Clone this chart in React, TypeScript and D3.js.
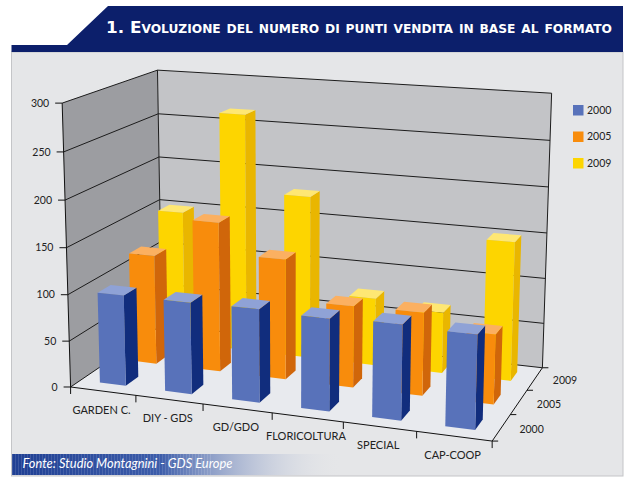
import React from "react";
import * as d3 from "d3";

const categories = ["GARDEN C.", "DIY - GDS", "GD/GDO", "FLORICOLTURA", "SPECIAL", "CAP-COOP"];
const years = ["2000", "2005", "2009"];
const values2000 = [98, 98, 99, 97, 99, 97];
const values2005 = [121, 164, 131, 88, 89, 74];
const values2009 = [151, 266, 181, 75, 67, 151];
const valueTicks = [0, 50, 100, 150, 200, 250, 300];
const seriesValues = [values2000, values2005, values2009];

const faceColors = [
  { front: "#5872ba", top: "#8fa2d6", side: "#112d7d" },
  { front: "#f88c0c", top: "#fbb061", side: "#d0660a" },
  { front: "#fdd500", top: "#fee773", side: "#e9b600" },
];

// frame reference points: [x (category units), y (value/100), z (rows, front=0), px, py]
const refPoints: number[][] = [
  [0, 0, 0, 71.7, 385],
  [0, 0.5, 0, 70, 341.7],
  [0, 1, 0, 68.3, 295],
  [0, 1.5, 0, 66.7, 248.3],
  [0, 2, 0, 65, 200],
  [0, 2.5, 0, 63.3, 151.7],
  [0, 3, 0, 62, 103.3],
  [0, 3, 3, 156.7, 70.7],
  [0, 2.5, 3, 158.3, 113.3],
  [0, 2, 3, 159.3, 157.3],
  [0, 1.5, 3, 160.7, 199],
  [6, 3, 3, 551.7, 93.3],
  [6, 2.5, 3, 550, 140],
  [6, 2, 3, 548.5, 186.7],
  [6, 1.5, 3, 547, 233.3],
  [6, 1, 3, 545.3, 278],
  [6, 0.5, 3, 543.7, 323],
  [6, 0, 3, 541, 367],
  [6, 0, 0, 492, 442],
  [0.3, 0, 0.3, 98, 382.7],
  [0.7, 0, 0.3, 126, 383.5],
  [0.3, 0, 1.3, 130, 361.7],
  [1.3, 0, 0.3, 165, 390],
  [1.3, 0, 1.3, 193, 370],
  [2.3, 0, 0.3, 232, 399.3],
  [2.3, 0, 1.3, 260, 378.3],
  [3.3, 0, 0.3, 300.7, 406.7],
  [3.3, 0, 1.3, 326, 385],
  [3.3, 0, 2.3, 350, 361.7],
  [4.3, 0, 0.3, 372, 416.7],
  [4.3, 0, 1.3, 397, 393],
  [5.3, 0, 0.3, 445, 426.7],
];

// least squares fit of a 3x4 projection (DLT with p12 = 1)
function fitCamera(refs: number[][]) {
  const n = 11;
  const M = Array.from({ length: n }, () => new Array(n).fill(0));
  const r = new Array(n).fill(0);
  const add = (row: number[], rhs: number) => {
    for (let i = 0; i < n; i++) {
      r[i] += row[i] * rhs;
      for (let j = 0; j < n; j++) M[i][j] += row[i] * row[j];
    }
  };
  refs.forEach(([X, Y, Z, px, py]) => {
    const u = (px - 300) / 300;
    const v = (py - 250) / 300;
    add([X, Y, Z, 1, 0, 0, 0, 0, -u * X, -u * Y, -u * Z], u);
    add([0, 0, 0, 0, X, Y, Z, 1, -v * X, -v * Y, -v * Z], v);
  });
  for (let c = 0; c < n; c++) {
    let p = c;
    for (let i = c + 1; i < n; i++) if (Math.abs(M[i][c]) > Math.abs(M[p][c])) p = i;
    [M[c], M[p]] = [M[p], M[c]];
    [r[c], r[p]] = [r[p], r[c]];
    for (let i = 0; i < n; i++) {
      if (i === c) continue;
      const f = M[i][c] / M[c][c];
      for (let j = c; j < n; j++) M[i][j] -= f * M[c][j];
      r[i] -= f * r[c];
    }
  }
  const p = r.map((v, i) => v / M[i][i]);
  return (X: number, Y: number, Z: number): [number, number] => {
    const w = p[8] * X + p[9] * Y + p[10] * Z + 1;
    return [
      ((p[0] * X + p[1] * Y + p[2] * Z + p[3]) / w) * 300 + 300,
      ((p[4] * X + p[5] * Y + p[6] * Z + p[7]) / w) * 300 + 250,
    ];
  };
}

const font = "Lato, 'Open Sans', sans-serif";

const App: React.FC = () => {
  const proj = React.useMemo(() => fitCamera(refPoints), []);
  const xBand = d3.scaleBand<string>().domain(categories).range([0, 6]).paddingInner(0.6).paddingOuter(0.3);
  const zBand = d3.scaleBand<string>().domain(years).range([0, 3]).paddingInner(0.6).paddingOuter(0.3);
  const yScale = d3.scaleLinear().domain([0, 300]).range([0, 3]);
  const xMax = 6;
  const zMax = 3;
  const vMax = 300;
  const P = (x: number, v: number, z: number) => proj(x, yScale(v), z);
  const poly = (pts: [number, number][]) => d3.line()(pts) + "Z";
  const seg = (a: [number, number], b: [number, number], key: string, stroke = "#1c1c1c") => (
    <line key={key} x1={a[0]} y1={a[1]} x2={b[0]} y2={b[1]} stroke={stroke} strokeWidth={1} />
  );

  const bars: JSX.Element[] = [];
  for (let j = years.length - 1; j >= 0; j--) {
    const z0 = zBand(years[j])!;
    const z1 = z0 + zBand.bandwidth();
    const c = faceColors[j];
    categories.forEach((cat, i) => {
      const x0 = xBand(cat)!;
      const x1 = x0 + xBand.bandwidth();
      const v = seriesValues[j][i];
      bars.push(
        <g key={`bar-${j}-${i}`}>
          <path d={poly([P(x1, 0, z0), P(x1, 0, z1), P(x1, v, z1), P(x1, v, z0)])} fill={c.side} />
          <path d={poly([P(x0, v, z0), P(x1, v, z0), P(x1, v, z1), P(x0, v, z1)])} fill={c.top} />
          <path d={poly([P(x0, 0, z0), P(x1, 0, z0), P(x1, v, z0), P(x0, v, z0)])} fill={c.front} />
        </g>
      );
    });
  }

  return (
    <svg width={632} height={480} style={{ position: "absolute", left: 0, top: 0 }}>
      <defs>
        <linearGradient id="footer" x1="0" x2="1" y1="0" y2="0">
          <stop offset="0" stopColor="#1f3f93" />
          <stop offset="0.45" stopColor="#3d5daa" />
          <stop offset="1" stopColor="#e5e6e8" stopOpacity="0" />
        </linearGradient>
        <pattern id="stripes" width="3" height="10" patternUnits="userSpaceOnUse">
          <rect width="1" height="10" fill="#ffffff" opacity="0.12" />
        </pattern>
      </defs>
      <rect width={632} height={480} fill="#ffffff" />
      <rect x={11.5} y={52} width={611.5} height={424} fill="#e5e6e8" stroke="#c4c5c8" />
      <path d="M108,6L623,6L623,52L11.5,52L11.5,45L67,45Z" fill="#0c1f6b" />
      <text
        x={106}
        y={32.5}
        fill="#ffffff"
        fontFamily="'DejaVu Sans', sans-serif"
        fontWeight={700}
        fontSize={16.5}
        textLength={506}
        lengthAdjust="spacingAndGlyphs"
        style={{ fontVariant: "small-caps" }}
      >
        1. Evoluzione del numero di punti vendita in base al formato
      </text>

      {/* walls and floor */}
      <path d={poly([P(0, 0, 0), P(xMax, 0, 0), P(xMax, 0, zMax), P(0, 0, zMax)])} fill="#e8eaee" />
      <path d={poly([P(0, 0, 0), P(0, 0, zMax), P(0, vMax, zMax), P(0, vMax, 0)])} fill="#9c9da1" />
      <path d={poly([P(0, 0, zMax), P(xMax, 0, zMax), P(xMax, vMax, zMax), P(0, vMax, zMax)])} fill="#c3c4c7" />
      {valueTicks.map(t => seg(P(0, t, 0), P(0, t, zMax), `lg-${t}`))}
      {valueTicks.map(t => seg(P(0, t, zMax), P(xMax, t, zMax), `bg-${t}`))}
      {seg(P(0, 0, zMax), P(0, vMax, zMax), "e1")}
      {seg(P(xMax, 0, zMax), P(xMax, vMax, zMax), "e2")}
      {seg(P(0, 0, 0), P(0, vMax, 0), "yaxis", "#111")}
      {seg(P(0, 0, 0), P(xMax, 0, 0), "xaxis", "#111")}
      {seg(P(xMax, 0, 0), P(xMax, 0, zMax), "zaxis", "#111")}

      {/* value axis ticks and labels */}
      {valueTicks.map(t => {
        const [ax, ay] = P(0, t, 0);
        return (
          <g key={`yt-${t}`}>
            <line x1={ax - 7} y1={ay} x2={ax} y2={ay} stroke="#111" />
            <text x={ax - 13} y={ay} dy="0.35em" textAnchor="end" fontFamily={font} fontSize={10.5} fill="#222">
              {t}
            </text>
          </g>
        );
      })}

      {/* category ticks and labels */}
      {d3.range(categories.length + 1).map(k => {
        const [ax, ay] = P(k, 0, 0);
        return <line key={`xt-${k}`} x1={ax} y1={ay} x2={ax} y2={ay + 7} stroke="#111" />;
      })}
      {categories.map(cat => {
        const [ax, ay] = P(xBand(cat)! + xBand.bandwidth() / 2, 0, 0);
        return (
          <text key={cat} x={ax - 1.5} y={ay + 19} dy="0.35em" textAnchor="middle" fontFamily={font} fontSize={11} fill="#222">
            {cat}
          </text>
        );
      })}

      {/* depth ticks and labels */}
      {d3.range(years.length + 1).map(k => {
        const [ax, ay] = P(xMax, 0, k);
        return <line key={`zt-${k}`} x1={ax} y1={ay} x2={ax + 6} y2={ay} stroke="#111" />;
      })}
      {years.map(y => {
        const [ax, ay] = P(xMax, 0, zBand(y)! + zBand.bandwidth() / 2);
        return (
          <text key={`zl-${y}`} x={ax + 18} y={ay + 2} dy="0.35em" fontFamily={font} fontSize={10.5} fill="#222">
            {y}
          </text>
        );
      })}

      {bars}

      {/* legend */}
      {years.map((y, j) => (
        <g key={`lg-${y}`} transform={`translate(573,${105 + j * 26.5})`}>
          <rect width={10.5} height={10.5} fill={faceColors[j].front} />
          <text x={14} y={5.25} dy="0.35em" fontFamily={font} fontSize={10.5} fill="#222">
            {y}
          </text>
        </g>
      ))}

      {/* footer */}
      <rect x={12} y={454} width={330} height={21} fill="url(#footer)" />
      <rect x={12} y={454} width={200} height={21} fill="url(#stripes)" />
      <text x={22.5} y={468} fontFamily={font} fontStyle="italic" fontSize={13} fill="#ffffff" textLength={210} lengthAdjust="spacingAndGlyphs">
        Fonte: Studio Montagnini - GDS Europe
      </text>
    </svg>
  );
};

export default App;
